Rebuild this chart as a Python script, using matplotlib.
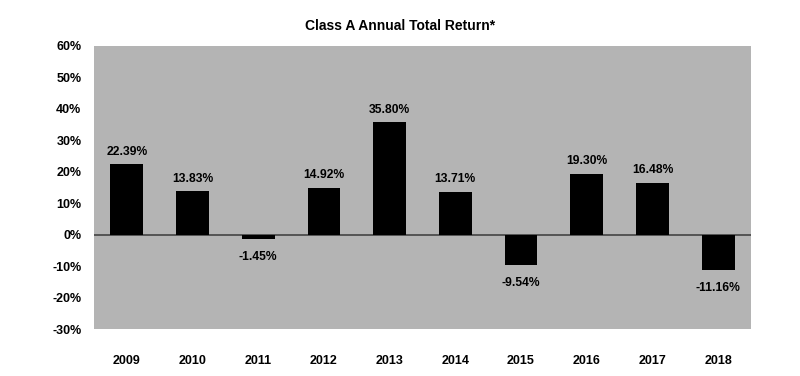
import matplotlib
matplotlib.use("Agg")
import matplotlib.pyplot as plt
from matplotlib.ticker import FuncFormatter

years = ["2009", "2010", "2011", "2012", "2013", "2014", "2015", "2016", "2017", "2018"]
returns = [22.39, 13.83, -1.45, 14.92, 35.80, 13.71, -9.54, 19.30, 16.48, -11.16]
labels = ["22.39%", "13.83%", "-1.45%", "14.92%", "35.80%", "13.71%", "-9.54%", "19.30%", "16.48%", "-11.16%"]
yticks = [-30, -20, -10, 0, 10, 20, 30, 40, 50, 60]

plt.rcParams['font.family'] = ['Liberation Sans', 'DejaVu Sans']
plt.rcParams['font.weight'] = 'bold'

fig = plt.figure(figsize=(8, 3.76), dpi=100)
ax = fig.add_axes([94/800, 1 - 329/376, (751-94)/800, (329-46)/376])
ax.set_facecolor('#b4b4b4')
x = list(range(len(years)))
ax.bar(x, returns, width=0.5, color='black', zorder=3)
ax.axhline(0, color='#444444', linewidth=1.2, zorder=2)
ax.set_xlim(-0.5, len(years) - 0.5)
ax.set_ylim(-30, 60)
ax.set_yticks(yticks)
ax.yaxis.set_major_formatter(FuncFormatter(lambda v, p: f"{int(v)}%"))
ax.set_xticks(x)
ax.set_xticklabels(years)
for s in ax.spines.values():
    s.set_visible(False)
ax.tick_params(axis='both', length=0, labelsize=9)
ax.tick_params(axis='y', pad=9)
ax.tick_params(axis='x', pad=19)
for xi, v, lab in zip(x, returns, labels):
    if v >= 0:
        ax.annotate(lab, (xi, v), xytext=(0, 9), textcoords='offset points',
                    ha='center', va='center', fontsize=8.7, fontweight='bold', zorder=4)
    else:
        ax.annotate(lab, (xi, v), xytext=(0, -13), textcoords='offset points',
                    ha='center', va='center', fontsize=8.7, fontweight='bold', zorder=4)
fig.text(400/800, 1 - 26/376, "Class A Annual Total Return*", ha='center', va='center',
         fontsize=10, fontweight='bold')
fig.savefig("out.png", dpi=100)
